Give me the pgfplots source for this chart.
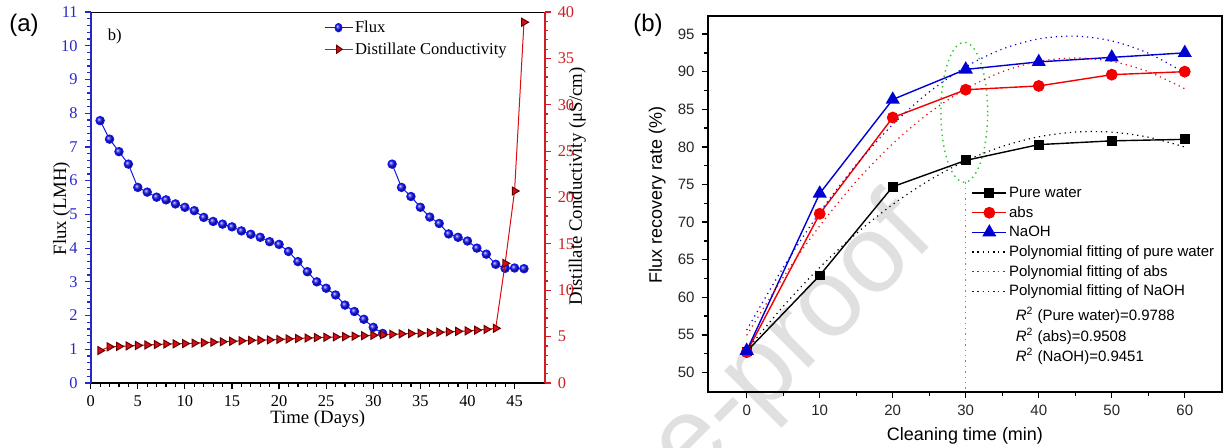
\documentclass[border=0pt]{standalone}
\usepackage{pgfplots}
\pgfplotsset{compat=1.18}
\usepackage{fontspec}
\setmainfont{Liberation Serif}
\newfontfamily\arial{Liberation Sans}
\definecolor{fblue}{RGB}{20,20,235}
\definecolor{axblue}{RGB}{40,40,200}
\definecolor{cred}{RGB}{215,15,20}
\definecolor{axred}{RGB}{205,30,35}
\definecolor{pblue}{RGB}{0,0,210}
\definecolor{pred}{RGB}{240,0,0}
\definecolor{pgreen}{RGB}{40,200,40}
\begin{document}
\begin{tikzpicture}[x=1pt,y=1pt]
\path[use as bounding box] (0,0) rectangle (612.5,223.5);
\node[rotate=45, text=black!12, font=\arial\fontsize{55}{55}\selectfont] at (397,52) {e-proof};
\node[font=\arial\fontsize{12}{12}\selectfont, anchor=center] at (12,211) {(a)};
\node[font=\arial\fontsize{12}{12}\selectfont, anchor=center] at (324,211) {(b)};
% ---------- left panel: flux ----------
\begin{axis}[
  at={(45.35pt,32pt)}, anchor=south west, scale only axis,
  width=227pt, height=185.5pt,
  xmin=0, xmax=48.2, ymin=0, ymax=11,
  axis lines*=left,
  axis line style={line width=0.9pt},
  x axis line style={draw=black},
  y axis line style={draw=axblue},
  xtick={0,5,...,45}, minor x tick num=4,
  ytick={0,1,...,11}, minor y tick num=4,
  tick align=outside,
  major tick length=3pt, minor tick length=1.8pt,
  every tick/.style={line width=0.6pt},
  x tick style={black}, y tick style={axblue},
  /pgf/number format/assume math mode=true,
  tick label style={font=\fontsize{8.2}{9}\selectfont},
  y tick label style={text=axblue},
  label style={font=\fontsize{9.4}{10}\selectfont},
  xlabel={Time (Days)},
  xlabel style={at={(axis description cs:0.5,-0.096)}, anchor=center},
  ylabel={Flux (LMH)},
  ylabel style={at={(axis description cs:-0.064,0.47)}, anchor=center},
  unbounded coords=jump,
  legend style={at={(axis description cs:0.513,0.988)}, anchor=north west,
    draw=none, fill=none, inner sep=0pt, row sep=0pt,
    font=\fontsize{8.3}{9}\selectfont,
    nodes={inner sep=1pt, text height=6.8pt, text depth=2pt}},
  legend cell align=left,
  legend image post style={xscale=0.82},
]
\addplot[fblue, line width=0.5pt, mark=ball, mark size=2.1pt, mark options={ball color=fblue}]
coordinates {
(1,7.78) (2,7.23) (3,6.86) (4,6.49) (5,5.80) (6,5.66) (7,5.51) (8,5.43) (9,5.31) (10,5.21)
(11,5.11) (12,4.91) (13,4.79) (14,4.71) (15,4.63) (16,4.51) (17,4.41) (18,4.32) (19,4.19) (20,4.11)
(21,3.90) (22,3.60) (23,3.30) (24,3.00) (25,2.81) (26,2.61) (27,2.31) (28,2.12) (29,1.89) (30,1.65)
(31,1.47) (31.5,nan)
(32,6.49) (33,5.80) (34,5.53) (35,5.21) (36,4.92) (37,4.73) (38,4.42) (39,4.32) (40,4.21)
(41,4.00) (42,3.82) (43,3.52) (44,3.40) (45,3.41) (46,3.39)
};
\addlegendentry{Flux}
\addlegendimage{cred, line width=0.5pt, mark=triangle*, mark size=2.3pt, mark options={rotate=-90, fill=cred, draw=black!60!red}}
\addlegendentry{Distillate Conductivity}
\node[anchor=west, font=\fontsize{8.3}{9}\selectfont] at (axis description cs:0.022,0.935) {b)};
\draw[black, line width=0.9pt] (rel axis cs:0,1) -- (rel axis cs:1,1);
\end{axis}
% ---------- left panel: conductivity ----------
\begin{axis}[
  at={(45.35pt,32pt)}, anchor=south west, scale only axis,
  width=227pt, height=185.5pt,
  xmin=0, xmax=48.2, ymin=0, ymax=40,
  axis x line=none, axis y line*=right,
  axis line style={line width=0.9pt, draw=axred},
  ytick={0,5,...,40}, minor y tick num=4,
  tick align=outside,
  major tick length=3pt, minor tick length=1.8pt,
  every tick/.style={line width=0.6pt},
  y tick style={axred},
  /pgf/number format/assume math mode=true,
  tick label style={font=\fontsize{8.2}{9}\selectfont},
  y tick label style={text=axred},
  ylabel={Distillate Conductivity (μS/cm)},
  ylabel style={font=\fontsize{9.4}{10}\selectfont, at={(axis description cs:1.072,0.53)}, anchor=center},
]
\addplot[cred, line width=0.5pt, mark=triangle*, mark size=2.3pt, mark options={rotate=-90, fill=cred, draw=black!60!red}]
coordinates {
(1,3.50) (2,3.90) (3,3.95) (4,4.00) (5,4.05) (6,4.10) (7,4.15) (8,4.20) (9,4.22) (10,4.25)
(11,4.30) (12,4.35) (13,4.40) (14,4.45) (15,4.50) (16,4.55) (17,4.60) (18,4.62) (19,4.65) (20,4.70)
(21,4.75) (22,4.80) (23,4.85) (24,4.90) (25,4.93) (26,4.97) (27,5.00) (28,5.05) (29,5.10) (30,5.15)
(31,5.20) (32,5.25) (33,5.30) (34,5.33) (35,5.37) (36,5.42) (37,5.47) (38,5.52) (39,5.57) (40,5.62)
(41,5.70) (42,5.78) (43,5.90) (44,12.9) (45,20.7) (46,38.9)
};
\end{axis}
% ---------- right panel ----------
\begin{axis}[
  at={(354pt,27.5pt)}, anchor=south west, scale only axis,
  width=257pt, height=188pt,
  xmin=-5.3, xmax=65.1, ymin=47.4, ymax=97.4,
  axis line style={line width=0.9pt},
  xtick={0,10,...,60}, minor x tick num=1,
  ytick={50,55,...,95}, minor y tick num=1,
  tick pos=left, tick align=outside,
  major tick length=3.2pt, minor tick length=2pt,
  every tick/.style={line width=0.7pt, black},
  /pgf/number format/assume math mode=true,
  tick label style={font=\arial\fontsize{7.5}{8}\selectfont, text=black!85},
  label style={font=\arial\fontsize{9}{10}\selectfont},
  xlabel={Cleaning time (min)},
  xlabel style={at={(axis description cs:0.5,-0.116)}, anchor=center},
  ylabel={Flux recovery rate (\%)},
  ylabel style={at={(axis description cs:-0.099,0.524)}, anchor=center},
  legend style={at={(axis description cs:0.512,0.556)}, anchor=north west,
    draw=none, fill=none, inner sep=0pt, row sep=0pt,
    font=\arial\fontsize{7.5}{8}\selectfont,
    nodes={inner sep=1pt, text height=6.2pt, text depth=1.6pt}},
  legend cell align=left,
]
\draw[pgreen, dotted, line width=0.7pt] (axis cs:29.8,84.6) ellipse [x radius=3.2, y radius=9.3];
\draw[pgreen, dotted, line width=0.7pt] (axis cs:30,75.3) -- (axis cs:30,47.4);
\addplot[black, line width=0.7pt, mark=square*, mark size=2.1pt]
coordinates {(0,52.8) (10,62.9) (20,74.7) (30,78.2) (40,80.3) (50,80.8) (60,81.0)};
\addlegendentry{Pure water}
\addplot[pred, line width=0.7pt, mark=*, mark size=2.6pt]
coordinates {(0,52.7) (10,71.1) (20,83.9) (30,87.6) (40,88.1) (50,89.6) (60,90.0)};
\addlegendentry{abs}
\addplot[pblue, line width=0.7pt, mark=triangle*, mark size=3.4pt]
coordinates {(0,52.9) (10,73.8) (20,86.3) (30,90.3) (40,91.3) (50,91.9) (60,92.5)};
\addlegendentry{NaOH}
\addplot[black, dotted, line width=0.6pt, smooth]
coordinates {(0,52.98) (5,58.79) (10,63.96) (15,68.47) (20,72.34) (25,75.56) (30,78.14) (35,80.06) (40,81.34) (45,81.97) (50,81.96) (55,81.29) (60,79.98)};
\addlegendentry{Polynomial fitting of pure water}
\addplot[pred, dotted, line width=0.6pt, smooth]
coordinates {(0,54.93) (5,62.66) (10,69.49) (15,75.41) (20,80.42) (25,84.52) (30,87.71) (35,89.99) (40,91.36) (45,91.82) (50,91.37) (55,90.00) (60,87.73)};
\addlegendentry{Polynomial fitting of abs}
\addplot[pblue, dotted, line width=0.6pt, smooth]
coordinates {(0,55.64) (5,63.96) (10,71.29) (15,77.62) (20,82.96) (25,87.30) (30,90.65) (35,93.00) (40,94.36) (45,94.72) (50,94.09) (55,92.46) (60,89.84)};
\addlegendentry{Polynomial fitting of NaOH}
\node[anchor=west, font=\arial\fontsize{7.5}{8}\selectfont] at (axis description cs:0.585,0.205) {{\itshape R}\textsuperscript{2} (Pure water)=0.9788};
\node[anchor=west, font=\arial\fontsize{7.5}{8}\selectfont] at (axis description cs:0.585,0.149) {{\itshape R}\textsuperscript{2} (abs)=0.9508};
\node[anchor=west, font=\arial\fontsize{7.5}{8}\selectfont] at (axis description cs:0.585,0.094) {{\itshape R}\textsuperscript{2} (NaOH)=0.9451};
\end{axis}
\end{tikzpicture}
\end{document}
